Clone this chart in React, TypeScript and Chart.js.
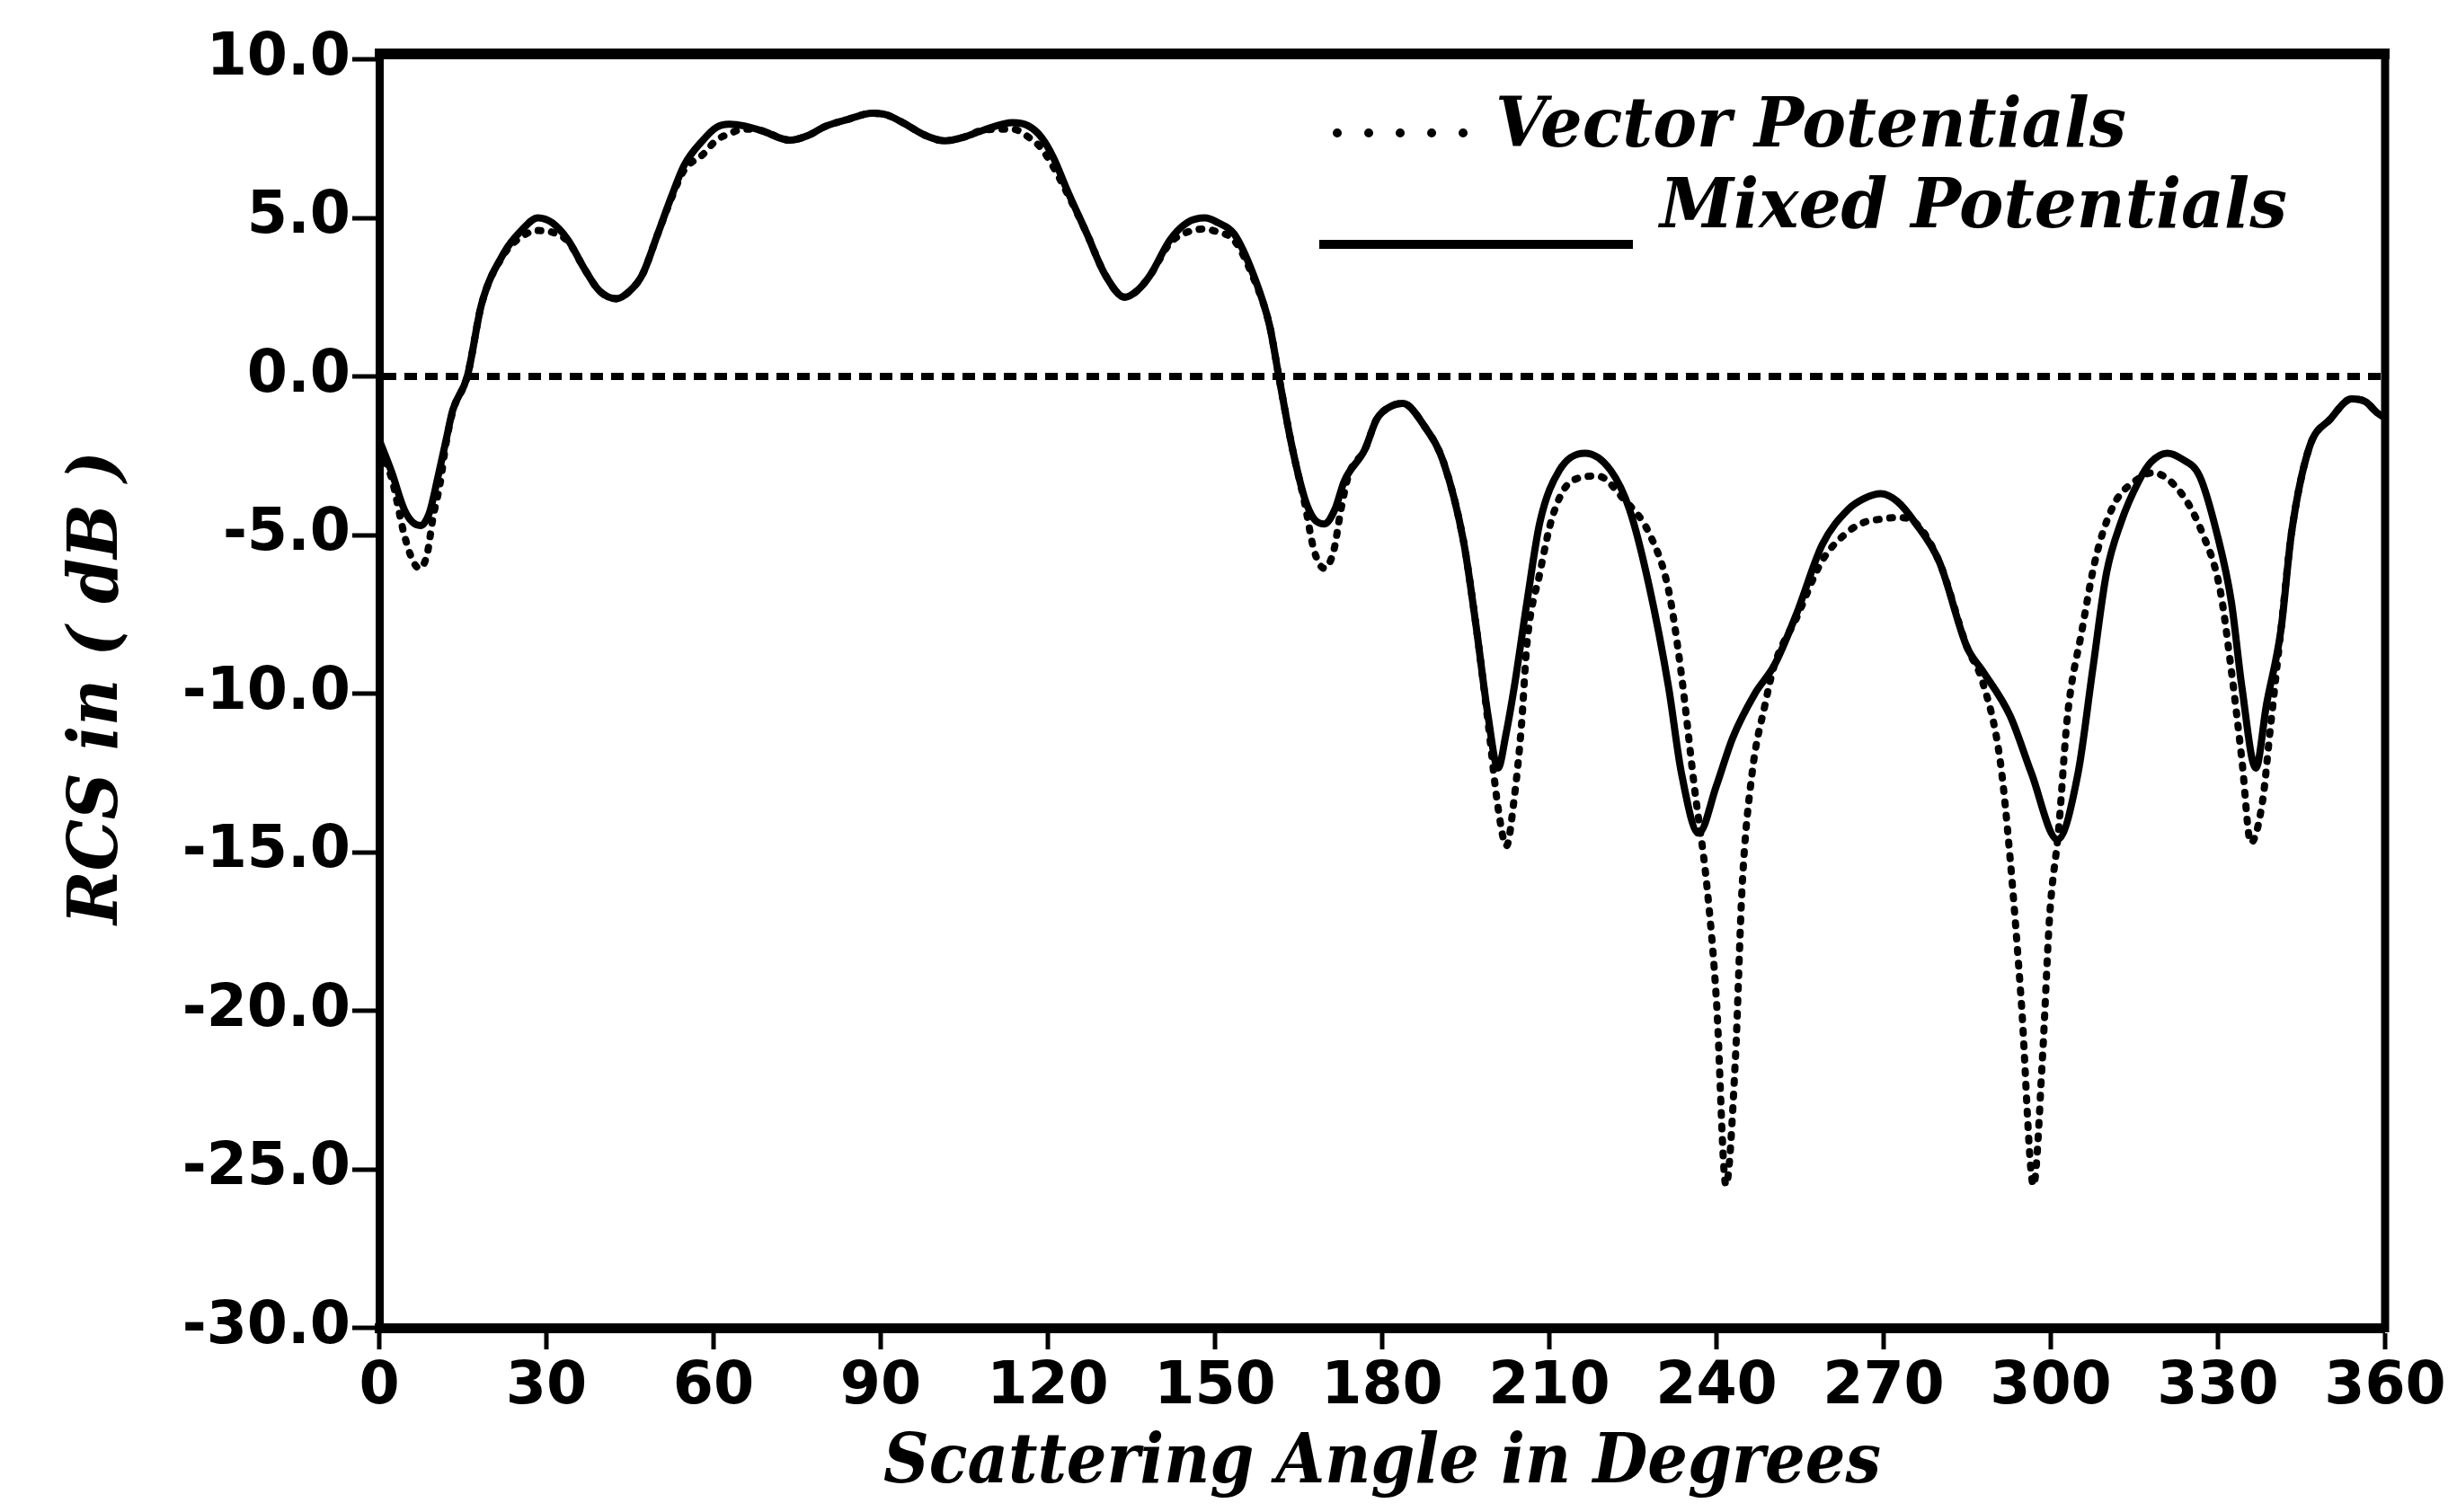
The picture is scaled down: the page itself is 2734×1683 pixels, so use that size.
import React, { useEffect, useRef } from 'react';
import { Chart, registerables } from 'chart.js';

Chart.register(...registerables);

// ---- Data ----
const mixedAngles = [
  0, 2.2, 4.5, 6, 7.4, 9, 10.5, 12, 13.2, 15.8, 18.4, 22.4, 25.5, 28.5, 31, 33.9, 36.8, 39.5, 42.6, 45,
  47.2, 50, 52.4, 54.7, 58.1, 60.5, 62.8, 65.5, 68.6, 73.7, 77, 80, 84, 88.5, 91, 94, 98, 101.5, 105, 108.5,
  113.7, 116.5, 118.8, 121, 123.4, 127, 130.3, 133.8, 136, 138.4, 141.9, 145, 148.2, 150.5, 153.4, 156.9, 159.8, 161.4, 163.8, 166.1,
  167.8, 169.6, 171.5, 173.2, 176.9, 179, 181.5, 183.7, 187.7, 191, 194.6, 196.8, 199, 200.8, 202.2, 203.7, 206, 208.3, 211.8, 216.4,
  221, 224.4, 227.9, 231.4, 233.7, 236.8, 240, 242.9, 246.9, 250.4, 254.4, 259, 263.6, 266.5, 269.5, 272.5, 275.6, 280, 285, 287.7,
  292.7, 296.5, 301.2, 304.9, 307.5, 310, 312.6, 315.8, 318, 320.9, 323.5, 326.7, 329.8, 332.4, 334.3, 336.8, 338.7, 341.3, 343.2, 346.4,
  350.2, 354, 356.5, 358.6, 360,
];
const mixedRcs = [
  -2.0, -3.0, -4.2, -4.6, -4.7, -4.3, -3.2, -2.0, -1.06, 0.0, 2.3, 3.9, 4.6, 5.0, 4.85, 4.3, 3.4, 2.7, 2.45, 2.7,
  3.2, 4.5, 5.65, 6.65, 7.45, 7.85, 7.95, 7.9, 7.75, 7.45, 7.6, 7.88, 8.1, 8.3, 8.25, 8.0, 7.6, 7.43, 7.55, 7.77,
  8.0, 7.9, 7.55, 6.9, 5.9, 4.5, 3.2, 2.5, 2.7, 3.2, 4.3, 4.85, 5.0, 4.85, 4.5, 3.2, 1.6, 0.05, -2.2, -3.85,
  -4.5, -4.65, -4.2, -3.3, -2.3, -1.35, -0.95, -0.85, -1.6, -2.7, -5.2, -7.8, -10.7, -12.35, -11.3, -9.8, -7.1, -4.6, -2.96, -2.42,
  -2.96, -4.2, -6.6, -9.8, -12.5, -14.4, -12.9, -11.4, -10.0, -9.1, -7.47, -5.3, -4.2, -3.85, -3.7, -3.95, -4.6, -5.85, -8.55, -9.27,
  -10.7, -12.5, -14.6, -12.5, -9.27, -6.2, -4.6, -3.3, -2.7, -2.42, -2.6, -3.14, -4.94, -7.1, -9.8, -12.35, -10.36, -8.0, -4.94, -2.24,
  -1.34, -0.71, -0.8, -1.15, -1.3,
];

const vectorAngles = [
  0, 2.2, 4.5, 6, 7.2, 8.6, 9.6, 10.9, 12, 13.2, 15.8, 18.4, 22.4, 25.5, 28.5, 31, 33.9, 36.8, 39.5, 42.6,
  45, 47.2, 50, 52.4, 54.7, 58.1, 60.5, 62.8, 65.5, 68.6, 73.7, 77, 80, 84, 88.5, 91, 94, 98, 101.5, 105,
  108.5, 113.7, 116.5, 118.8, 121, 123.4, 127, 130.3, 133.8, 136, 138.4, 141.9, 145, 148.2, 150.5, 153.4, 156.9, 159.8, 161.4, 163.8,
  166.1, 167.8, 169.6, 171.3, 172.6, 174, 176.9, 179, 181.5, 183.7, 187.7, 191, 194.6, 196.8, 199, 200.8, 202.3, 203.7, 205, 206,
  208.3, 210.6, 214, 218.7, 223.3, 227.9, 231.4, 233.6, 236, 238.3, 240, 241.7, 243.4, 244.6, 246.4, 248.7, 250.4, 254.4, 259, 263.6,
  266.5, 269.5, 272.5, 275.6, 280, 285, 287.7, 290.9, 292.7, 294.7, 296.9, 298.5, 299.8, 301.4, 303, 305.6, 308.1, 311.3, 315.1, 318.3,
  323.4, 327.2, 330.4, 332.4, 334.3, 335.9, 338, 339.4, 341.3, 343.2, 346.4, 350.2, 354, 356.5, 358.6, 360,
];
const vectorRcs = [
  -2.3, -3.2, -5.0, -5.8, -6.05, -5.6, -4.5, -3.4, -2.1, -1.1, 0.0, 2.3, 3.85, 4.4, 4.6, 4.55, 4.25, 3.4, 2.7, 2.45,
  2.7, 3.2, 4.5, 5.6, 6.5, 7.0, 7.45, 7.65, 7.8, 7.75, 7.45, 7.6, 7.88, 8.1, 8.3, 8.25, 8.0, 7.6, 7.43, 7.55,
  7.77, 7.8, 7.55, 7.2, 6.6, 5.8, 4.5, 3.2, 2.5, 2.7, 3.2, 4.2, 4.55, 4.65, 4.55, 4.3, 3.1, 1.6, 0.05, -2.2,
  -4.0, -5.5, -6.05, -5.5, -4.2, -3.1, -2.3, -1.35, -0.95, -0.85, -1.6, -2.7, -5.2, -7.8, -10.9, -13.6, -14.8, -13.3, -11.0, -8.4,
  -6.2, -4.4, -3.3, -3.14, -3.86, -4.94, -6.74, -9.26, -12.9, -16.1, -19.7, -25.5, -21.5, -16.1, -12.5, -10.36, -9.1, -7.6, -5.8, -4.9,
  -4.6, -4.5, -4.45, -4.6, -5.85, -8.55, -9.6, -12.1, -15.2, -19.7, -25.5, -21.5, -17.0, -14.3, -10.7, -8.0, -5.7, -4.05, -3.3, -3.04,
  -3.68, -4.94, -6.74, -9.27, -12.1, -14.7, -13.4, -11.1, -8.0, -4.94, -2.24, -1.34, -0.71, -0.8, -1.15, -1.3,
];

const seriesLabels = ['Vector Potentials', 'Mixed Potentials'];
const xAxisTitle = 'Scattering Angle in Degrees';
const yAxisTitle = 'RCS in ( dB )';
const xMin = 0;
const xMax = 360;
const xStep = 30;
const yMin = -30;
const yMax = 10;
const yStep = 5;

const W = 2734;
const H = 1683;

function fitText(ctx: CanvasRenderingContext2D, text: string, left: number, baseline: number, width: number) {
  const w = ctx.measureText(text).width;
  ctx.save();
  ctx.translate(left, baseline);
  ctx.scale(width / w, 1);
  ctx.textAlign = 'left';
  ctx.textBaseline = 'alphabetic';
  ctx.fillText(text, 0, 0);
  ctx.restore();
}

export default function App() {
  const canvasRef = useRef<HTMLCanvasElement>(null);

  useEffect(() => {
    const canvas = canvasRef.current;
    if (!canvas) return;

    const scriptFont = 'italic bold 76px "DejaVu Serif"';

    const decor = {
      id: 'decor',
      afterDraw(chart: any) {
        const ctx: CanvasRenderingContext2D = chart.ctx;
        const a = chart.chartArea;
        ctx.save();
        ctx.strokeStyle = '#000';
        ctx.fillStyle = '#000';
        // top and right frame lines
        ctx.lineCap = 'butt';
        ctx.lineWidth = 12;
        ctx.beginPath();
        ctx.moveTo(a.left - 5, a.top - 6);
        ctx.lineTo(a.right + 5, a.top - 6);
        ctx.stroke();
        ctx.lineWidth = 9;
        ctx.beginPath();
        ctx.moveTo(a.right, a.top - 12);
        ctx.lineTo(a.right, a.bottom + 5);
        ctx.stroke();

        // legend samples
        ctx.lineWidth = 10;
        ctx.lineCap = 'round';
        ctx.setLineDash([0.01, 35]);
        ctx.beginPath();
        ctx.moveTo(1488, 148);
        ctx.lineTo(1630, 148);
        ctx.stroke();
        ctx.setLineDash([]);
        ctx.lineCap = 'butt';
        ctx.beginPath();
        ctx.moveTo(1468, 272);
        ctx.lineTo(1817, 272);
        ctx.stroke();

        // legend texts and axis titles
        ctx.font = scriptFont;
        fitText(ctx, seriesLabels[0], 1664, 163, 702);
        fitText(ctx, seriesLabels[1], 1847, 253, 698);
        const cx = (a.left + a.right) / 2;
        fitText(ctx, xAxisTitle, cx - 555, 1650, 1110);

        ctx.save();
        ctx.translate(130, 1029);
        ctx.rotate(-Math.PI / 2);
        fitText(ctx, yAxisTitle, 0, 0, 527);
        ctx.restore();
        ctx.restore();
      },
    };

    const tickFont = { family: '"DejaVu Sans"', size: 65, weight: 'bold' as const };

    const chart = new Chart(canvas, {
      type: 'line',
      data: {
        datasets: [
          {
            label: seriesLabels[0],
            data: vectorAngles.map((x, i) => ({ x, y: vectorRcs[i] })),
            borderColor: '#000',
            backgroundColor: '#000',
            borderWidth: 8,
            borderDash: [3, 12],
            borderCapStyle: 'round',
            pointRadius: 0,
            cubicInterpolationMode: 'monotone',
            fill: false,
          },
          {
            label: seriesLabels[1],
            data: mixedAngles.map((x, i) => ({ x, y: mixedRcs[i] })),
            borderColor: '#000',
            backgroundColor: '#000',
            borderWidth: 8,
            pointRadius: 0,
            cubicInterpolationMode: 'monotone',
            fill: false,
          },
        ],
      },
      options: {
        responsive: false,
        devicePixelRatio: 1,
        animation: false,
        layout: { padding: { top: 66, right: 80, left: 0, bottom: 0 } },
        plugins: {
          legend: { display: false },
          tooltip: { enabled: false },
        },
        scales: {
          x: {
            type: 'linear',
            min: xMin,
            max: xMax,
            ticks: {
              stepSize: xStep,
              autoSkip: false,
              maxRotation: 0,
              color: '#000',
              font: tickFont,
              padding: 4,
              callback: (v: any) => String(v),
            },
            grid: {
              display: true,
              drawOnChartArea: false,
              color: 'rgba(0,0,0,0)',
              lineWidth: 0,
              tickColor: '#000',
              tickWidth: 5,
              tickLength: 24,
            },
            border: { display: true, color: '#000', width: 11 },
            afterFit: (scale: any) => {
              scale.height = H - 1478;
            },
          },
          y: {
            type: 'linear',
            min: yMin,
            max: yMax,
            ticks: {
              stepSize: yStep,
              autoSkip: false,
              color: '#000',
              font: tickFont,
              padding: 2,
              callback: (v: any) => Number(v).toFixed(1),
            },
            grid: {
              display: true,
              drawOnChartArea: true,
              color: (c: any) => (c.tick && c.tick.value === 0 ? '#000' : 'rgba(0,0,0,0)'),
              lineWidth: (c: any) => (c.tick && c.tick.value === 0 ? 8 : 0),
              tickColor: '#000',
              tickWidth: 5,
              tickLength: 30,
            },
            border: { display: true, color: '#000', width: 9, dash: [14, 9] },
            afterFit: (scale: any) => {
              scale.width = 422;
            },
          },
        },
      },
      plugins: [decor],
    } as any);

    return () => {
      chart.destroy();
    };
  }, []);

  return (
    <div style={{ position: 'fixed', left: 0, top: 0, width: W, height: H, background: '#fff' }}>
      <canvas ref={canvasRef} width={W} height={H} style={{ display: 'block' }} />
    </div>
  );
}
